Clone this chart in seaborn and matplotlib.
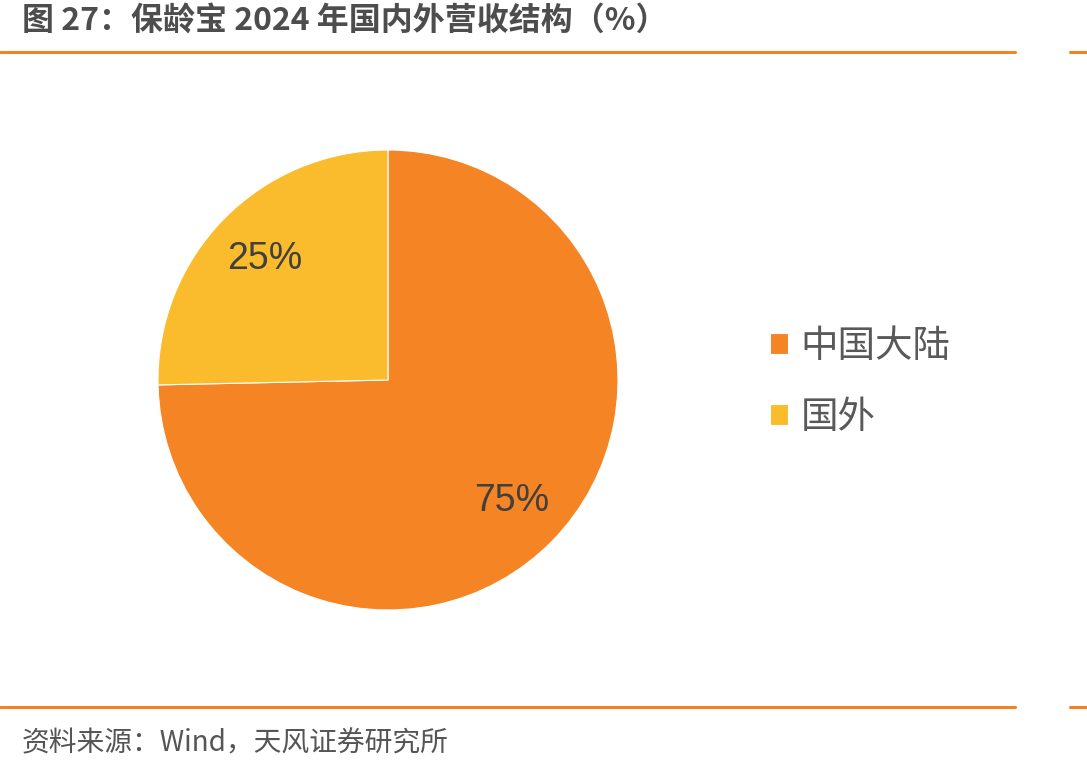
import matplotlib
matplotlib.use("Agg")
import matplotlib.pyplot as plt
import seaborn as sns
from matplotlib.lines import Line2D

categories = ["中国大陆", "国外"]
values = [74.66, 25.34]
title = "图 27：保龄宝 2024 年国内外营收结构（%）"
source = "资料来源：Wind，天风证券研究所"
colors = ["#F58424", "#FABC2C"]

sns.set_theme(style="white")
plt.rcParams['font.family'] = ['Noto Sans CJK SC', 'DejaVu Sans']

W, H = 1087, 773
fig = plt.figure(figsize=(W / 100, H / 100), dpi=100)

cx, cy, r = 388, 380, 230
ax = fig.add_axes([(cx - r) / W, 1 - (cy + r) / H, 2 * r / W, 2 * r / H])
wedges, texts, autotexts = ax.pie(
    values, colors=colors, startangle=90, counterclock=False,
    autopct=lambda p: f"{p:.0f}%", pctdistance=0.75,
    wedgeprops=dict(linewidth=0.8, edgecolor="white"),
    textprops=dict(fontsize=27, color="#404040", family="Liberation Sans"))
ax.set_xlim(-1, 1)
ax.set_ylim(-1, 1)
ax.set_aspect("equal")

fig.legend(wedges, categories, loc="center left",
           bbox_to_anchor=(770 / W, 1 - 382 / H), frameon=False,
           prop=dict(size=27, family="Noto Sans CJK SC"),
           labelcolor="#595959", handlelength=0.47, handleheight=0.47,
           handletextpad=0.35, labelspacing=0.85, borderpad=0, borderaxespad=0)

fig.text(22 / W, 1 - 22 / H, title, fontsize=23, fontweight="bold",
         color="#4D4D4D", va="center", ha="left")
fig.text(22 / W, 1 - 743 / H, source, fontsize=20, color="#555555",
         va="center", ha="left")

for y in (52, 707):
    yy = 1 - y / H
    fig.add_artist(Line2D([0, 1015 / W], [yy, yy], color="#F58220", lw=2.2))
    fig.add_artist(Line2D([1070 / W, 1], [yy, yy], color="#F58220", lw=2.2))

fig.savefig("out.png", dpi=100)
